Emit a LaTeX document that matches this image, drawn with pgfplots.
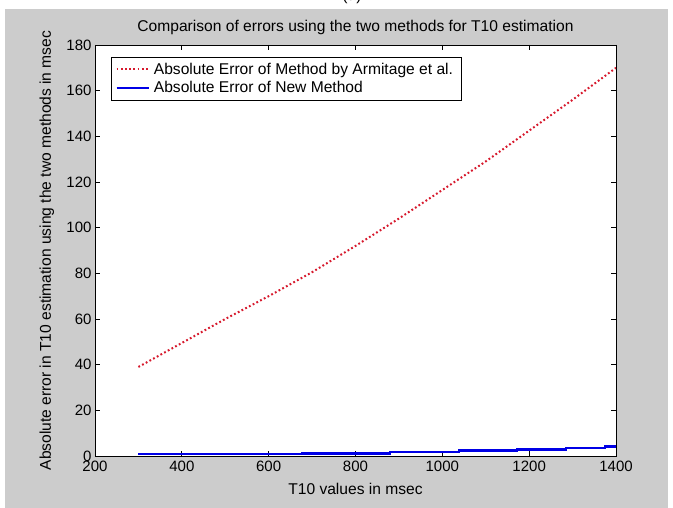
\documentclass[border=0pt]{standalone}
\usepackage{fontspec}
\setmainfont{Liberation Sans}
\usepackage{pgfplots}
\pgfplotsset{compat=1.18}
\definecolor{figgray}{RGB}{204,204,204}
\definecolor{errred}{RGB}{215,25,45}
\definecolor{errblue}{RGB}{0,0,230}
\newcommand{\mfont}{\fontsize{15.6bp}{18bp}\selectfont}
\newcommand{\tfont}{\fontsize{15bp}{18bp}\selectfont}

\begin{document}
\begin{tikzpicture}
\path[use as bounding box] (0,0) rectangle (673bp,508bp);
\clip (0,0) rectangle (673bp,508bp);
\fill[white] (0,0) rectangle (673bp,508bp);
% cut-off panel tag above the figure
\node[font=\mfont, anchor=base] at (352bp,507.5bp) {(a)};
\fill[figgray] (5bp,0bp) rectangle (668bp,499bp);
\begin{axis}[
  at={(95bp,52bp)}, anchor=south west,
  scale only axis, width=521bp, height=411bp,
  xmin=200, xmax=1400, ymin=0, ymax=180,
  xtick={200,400,...,1400}, ytick={0,20,...,180},
  tick align=inside, xtick pos=both, ytick pos=both,
  major tick length=5bp,
  every tick/.style={black, line width=0.8bp},
  axis line style={line width=0.8bp},
  axis background/.style={fill=white},
  tick label style={font=\tfont},
  xticklabel style={yshift=-2bp},
  /pgf/number format/assume math mode=true,
  /pgf/number format/1000 sep={},
  every axis title shift=0pt,
  title={Comparison of errors using the two methods for T10 estimation},
  title style={font=\mfont, at={(0.5,1.034)}, anchor=base},
  xlabel={T10 values in msec},
  xlabel style={font=\mfont, at={(0.5,-0.0925)}, anchor=base},
  ylabel={Absolute error in T10 estimation using the two methods in msec},
  ylabel style={font=\mfont, at={(-0.0845,0.5)}, anchor=base},
  legend style={font=\mfont, at={(0.0307,0.971)}, anchor=north west,
    draw=black, line width=0.8bp, fill=white,
    inner xsep=4bp, inner ysep=3bp, row sep=1bp,
    nodes={inner xsep=4bp, inner ysep=2.5bp}},
  legend cell align=left,
  legend image code/.code={\draw[#1] (-3bp,0bp) -- (29bp,0bp);},
]
\addplot[errred, line width=2bp, dash pattern=on 1.8bp off 2.4bp]
  coordinates {
    (300,39)(400,49.5)(500,60)(600,70)(700,80.5)(800,92)
    (900,104)(1000,116.5)(1100,129)(1200,142.5)(1300,156)(1400,170)};
\addlegendentry{Absolute Error of Method by Armitage et al.}
\addplot[errblue, line width=2.5bp, const plot]
  coordinates {
    (300,0.8)(677,1.2)(880,1.7)(1038,2.3)(1172,2.9)(1285,3.4)(1375,4.2)(1400,4.2)};
\addlegendentry{Absolute Error of New Method}
\end{axis}
\end{tikzpicture}
\end{document}
